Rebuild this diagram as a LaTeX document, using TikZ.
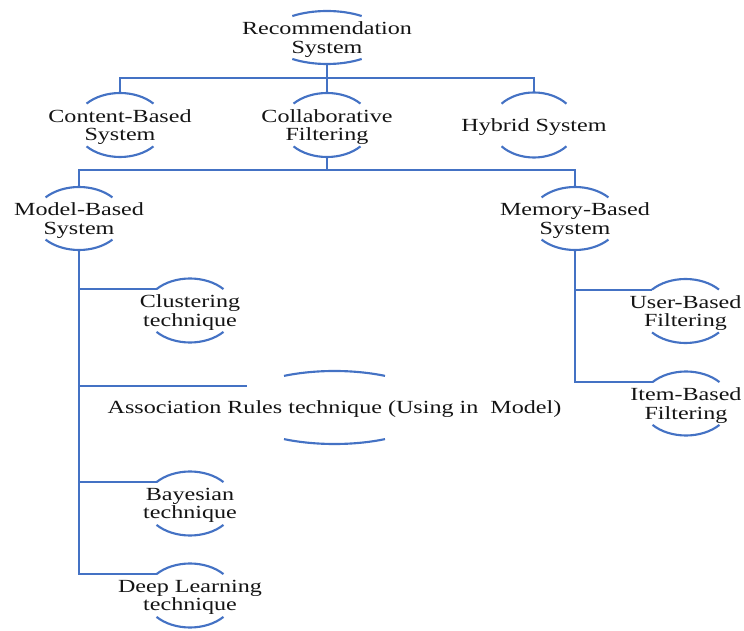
\documentclass[tikz,border=0pt]{standalone}
\usepackage{fontspec}
\setmainfont{Liberation Serif}[FakeStretch=1.3]
\usepackage{tikz}
\definecolor{recblue}{RGB}{68,114,196}

\begin{document}
\begin{tikzpicture}[x=0.75pt,y=0.75pt,
  box/.style={align=center,inner sep=0pt,yshift=-1.5pt,font=\fontsize{13.9}{13.9}\selectfont,text=black!92},
  lens/.style={recblue,line width=1.6pt},
  link/.style={recblue,line width=1.5pt}]
  \useasboundingbox (0,0) rectangle (744,-631);
  \node[box] (rec) at (327,-37.5) {Recommendation\\System};
  \node[box] (cbs) at (120,-125) {Content-Based\\System};
  \node[box] (cf) at (327,-125) {Collaborative\\Filtering};
  \node[box] (hyb) at (534,-125) {Hybrid System};
  \node[box] (mbs) at (79,-218.5) {Model-Based\\System};
  \node[box] (mem) at (575,-218.5) {Memory-Based\\System};
  \node[box] (clu) at (190,-310.5) {Clustering\\technique};
  \node[box] (asr) at (334.5,-407.5) {Association Rules technique (Using in\ \ Model)};
  \node[box] (bay) at (190,-503.5) {Bayesian\\technique};
  \node[box] (dlt) at (190,-595.5) {Deep Learning\\technique};
  \node[box] (ubf) at (685.5,-311) {User-Based\\Filtering};
  \node[box] (ibf) at (686,-403.5) {Item-Based\\Filtering};
  \foreach \n/\rx/\ry/\ang in {rec/59/26.5/54, cbs/45/32/42, cf/45/32/42, hyb/43/32.5/41,
      mbs/45/31.5/42, mem/45/31.5/42, clu/45/32/42, asr/101/36.5/60, bay/45/32/42,
      dlt/45/32/42, ubf/45/32/42, ibf/45/32/42} {
    \draw[lens] ([yshift=1.5pt]\n.center) ++({\rx*cos(\ang)},{\ry*sin(\ang)})
      arc[start angle=\ang,end angle=90,x radius=\rx,y radius=\ry] coordinate (\n-n)
      arc[start angle=90,end angle=180-\ang,x radius=\rx,y radius=\ry] coordinate (\n-w);
    \draw[lens] ([yshift=1.5pt]\n.center) ++({-\rx*cos(\ang)},{-\ry*sin(\ang)})
      arc[start angle=180+\ang,end angle=270,x radius=\rx,y radius=\ry] coordinate (\n-s)
      arc[start angle=270,end angle=360-\ang,x radius=\rx,y radius=\ry];
  }
  \coordinate (bus1) at (0,-78);
  \coordinate (bus2) at (0,-170);
  \coordinate (asr-in) at (247,-386);
  \draw[link] (rec-s) -- (cf-n);
  \draw[link] (cbs-n) |- (bus1 -| hyb-n) -- (hyb-n);
  \draw[link] (cf-s) -- (cf-s |- bus2);
  \draw[link] (mbs-n) |- (bus2 -| mem-n) -- (mem-n);
  \draw[link] (mbs-s) |- (dlt-w);
  \foreach \n in {clu-w,asr-in,bay-w}
    \draw[link] (mbs-s |- \n) -- (\n);
  \draw[link] (mem-s) |- (ibf-w);
  \draw[link] (mem-s |- ubf-w) -- (ubf-w);
\end{tikzpicture}
\end{document}
